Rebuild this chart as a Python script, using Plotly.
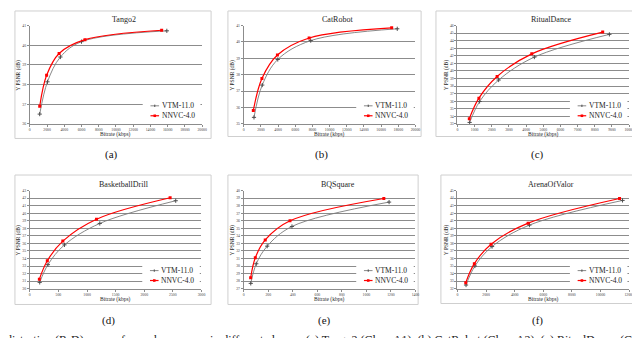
import plotly.graph_objects as go

W, H = 640, 338

titles = ["Tango2", "CatRobot", "RitualDance", "BasketballDrill", "BQSquare", "ArenaOfValor"]
tags = ["(a)", "(b)", "(c)", "(d)", "(e)", "(f)"]
series_names = ["VTM-11.0", "NNVC-4.0"]

# bitrate (kbps) / Y PSNR (dB)
tango_rate_vtm = [1150, 2050, 3550, 6000, 15900]
tango_psnr_vtm = [36.50, 38.14, 39.40, 40.18, 40.73]
tango_rate_nnvc = [1150, 1950, 3400, 6400, 15300]
tango_psnr_nnvc = [36.90, 38.47, 39.58, 40.28, 40.76]

cat_rate_vtm = [1190, 2150, 3960, 7800, 17880]
cat_psnr_vtm = [35.40, 37.37, 38.93, 40.08, 40.80]
cat_rate_nnvc = [1110, 2115, 3920, 7615, 17230]
cat_psnr_nnvc = [35.82, 37.77, 39.20, 40.24, 40.86]

ritual_rate_vtm = [710, 1290, 2400, 4480, 8850]
ritual_psnr_vtm = [33.20, 35.96, 38.80, 41.83, 44.83]
ritual_rate_nnvc = [690, 1250, 2310, 4330, 8460]
ritual_psnr_nnvc = [33.70, 36.40, 39.26, 42.26, 45.13]

bball_rate_vtm = [173, 317, 606, 1223, 2550]
bball_psnr_vtm = [30.83, 33.18, 35.80, 38.64, 41.65]
bball_rate_nnvc = [167, 306, 577, 1166, 2452]
bball_psnr_nnvc = [31.26, 33.70, 36.30, 39.20, 42.04]

bq_rate_vtm = [57, 102, 191, 393, 1185]
bq_psnr_vtm = [27.70, 30.30, 32.63, 35.24, 38.47]
bq_rate_nnvc = [56, 94, 175, 377, 1142]
bq_psnr_nnvc = [28.44, 31.10, 33.46, 35.99, 38.95]

arena_rate_vtm = [600, 1220, 2420, 5030, 11540]
arena_psnr_vtm = [32.48, 35.00, 37.58, 40.42, 43.69]
arena_rate_nnvc = [580, 1180, 2350, 4940, 11330]
arena_psnr_nnvc = [32.80, 35.31, 37.89, 40.68, 43.95]

vtm = [(tango_rate_vtm, tango_psnr_vtm), (cat_rate_vtm, cat_psnr_vtm),
       (ritual_rate_vtm, ritual_psnr_vtm), (bball_rate_vtm, bball_psnr_vtm),
       (bq_rate_vtm, bq_psnr_vtm), (arena_rate_vtm, arena_psnr_vtm)]
nnvc = [(tango_rate_nnvc, tango_psnr_nnvc), (cat_rate_nnvc, cat_psnr_nnvc),
        (ritual_rate_nnvc, ritual_psnr_nnvc), (bball_rate_nnvc, bball_psnr_nnvc),
        (bq_rate_nnvc, bq_psnr_nnvc), (arena_rate_nnvc, arena_psnr_nnvc)]

x_ranges = [[0, 20000], [0, 20000], [0, 10000], [0, 3000], [0, 1400], [0, 12000]]
x_dticks = [2000, 2000, 1000, 500, 200, 2000]
y_ranges = [[36, 41], [35, 41], [33, 46], [30, 43], [27, 40], [32, 45]]

# layout in pixels: plot area (l, r, t, b) and outer frame (l, r, t, b)
plot_px = [(21, 195, 15.7, 115.3), (237, 410.3, 15.7, 115.3), (452.7, 626, 15.7, 115.3),
           (21, 194.3, 182.7, 282), (237, 410.3, 182.7, 282), (452.7, 626, 182.7, 282)]
frame_px = [(6, 204, 1, 130), (221, 416, 1, 128), (431, 636, 1, 128),
            (6, 204, 167, 298), (221, 413, 167, 298), (436, 630, 167, 297)]
tag_px = [(103, 146), (315, 146), (533, 146), (100, 314), (318, 314), (533, 314)]

SERIF = "Liberation Serif"
GRID = "#8c8c8c"
GREY = "#7a7a7a"
RED = "#ff0000"


def px(x):
    return x / W


def py(y):
    return 1 - y / H


fig = go.Figure()
shapes = []
annots = []

for i in range(6):
    k = i + 1
    sfx = "" if k == 1 else str(k)
    l, r, t, b = plot_px[i]
    xa, ya = "x" + sfx, "y" + sfx

    fig.add_trace(go.Scatter(x=vtm[i][0], y=vtm[i][1], name=series_names[0],
                             xaxis=xa, yaxis=ya, mode="lines+markers",
                             line=dict(color=GREY, width=0.9, shape="spline", smoothing=1),
                             marker=dict(symbol="cross-thin", size=3,
                                         line=dict(width=1, color="#4d4d4d")),
                             showlegend=False))
    fig.add_trace(go.Scatter(x=nnvc[i][0], y=nnvc[i][1], name=series_names[1],
                             xaxis=xa, yaxis=ya, mode="lines+markers",
                             line=dict(color=RED, width=1.2, shape="spline", smoothing=1),
                             marker=dict(symbol="square", size=3, color=RED),
                             showlegend=False))

    fig.update_layout({
        "xaxis" + sfx: dict(domain=[px(l), px(r)], range=x_ranges[i], dtick=x_dticks[i], tick0=0,
                            tickformat="d",
                            anchor=ya, showgrid=False, zeroline=False, showline=True,
                            linecolor=GRID, linewidth=1, ticks="outside", ticklen=2,
                            tickcolor=GRID, tickfont=dict(size=3.8, color="#404040", family=SERIF),
                            fixedrange=True),
        "yaxis" + sfx: dict(domain=[py(b), py(t)], range=y_ranges[i], dtick=1, tick0=0,
                            tickformat="d",
                            anchor=xa, showgrid=True, gridcolor=GRID, gridwidth=1,
                            zeroline=False, showline=True, linecolor=GRID, linewidth=1,
                            ticks="outside", ticklen=2, tickcolor=GRID,
                            tickfont=dict(size=3.8, color="#404040", family=SERIF),
                            fixedrange=True),
    })

    # chart frame
    fl, fr, ft, fb = frame_px[i]
    shapes.append(dict(type="rect", xref="paper", yref="paper", x0=px(fl), x1=px(fr),
                       y0=py(fb), y1=py(ft), line=dict(color="#cfcfcf", width=1), layer="below"))

    # titles
    annots.append(dict(x=px((l + r) / 2 + 8), y=py(t - 6), xref="paper", yref="paper",
                       text=titles[i], showarrow=False, xanchor="center", yanchor="middle",
                       font=dict(family=SERIF, size=8, color="#262626")))
    annots.append(dict(x=px((l + r) / 2), y=py(b + 10.5), xref="paper", yref="paper",
                       text="Bitrate (kbps)", showarrow=False, xanchor="center", yanchor="middle",
                       font=dict(family=SERIF, size=5.5, color="#262626")))
    annots.append(dict(x=px(l - 11), y=py((t + b) / 2), xref="paper", yref="paper",
                       text="Y PSNR (dB)", showarrow=False, textangle=-90,
                       xanchor="center", yanchor="middle",
                       font=dict(family=SERIF, size=5.5, color="#262626")))
    annots.append(dict(x=px(tag_px[i][0]), y=py(tag_px[i][1]), xref="paper", yref="paper",
                       text=tags[i], showarrow=False, xanchor="center", yanchor="middle",
                       font=dict(family=SERIF, size=11, color="#111111")))

    # in-plot legend
    xd, yd = xa + " domain", ya + " domain"
    wpx, hpx = r - l, b - t
    shapes.append(dict(type="rect", xref=xd, yref=yd, x0=0.655, x1=0.99, y0=0.03, y1=0.245,
                       fillcolor="white", line=dict(width=0), layer="above"))
    for yy, col, lw in [(0.184, GREY, 0.9), (0.083, RED, 1.2)]:
        shapes.append(dict(type="line", xref=xd, yref=yd, x0=0.70, x1=0.75, y0=yy, y1=yy,
                           line=dict(color=col, width=lw), layer="above"))
    cx = 0.725
    shapes.append(dict(type="line", xref=xd, yref=yd, x0=cx, x1=cx,
                       y0=0.184 - 1.2 / hpx, y1=0.184 + 1.2 / hpx,
                       line=dict(color="#4d4d4d", width=1), layer="above"))
    shapes.append(dict(type="rect", xref=xd, yref=yd, x0=cx - 1.3 / wpx, x1=cx + 1.3 / wpx,
                       y0=0.083 - 1.3 / hpx, y1=0.083 + 1.3 / hpx,
                       fillcolor=RED, line=dict(width=0), layer="above"))
    for yy, name in [(0.184, series_names[0]), (0.083, series_names[1])]:
        annots.append(dict(x=0.755, y=yy, xref=xd, yref=yd, text=name, showarrow=False,
                           xanchor="left", yanchor="middle",
                           font=dict(family=SERIF, size=7.5, color="#1a1a1a")))

annots.append(dict(x=px(-5), y=py(325), xref="paper", yref="paper", showarrow=False,
                   xanchor="left", yanchor="top",
                   text="distortion (R-D) curves for each sequence in different classes. "
                        "(a) Tango2 (Class A1), (b) CatRobot (Class A2), (c) RitualDance (Class A1),",
                   font=dict(family=SERIF, size=12, color="#1a1a1a")))

fig.update_layout(width=W, height=H, margin=dict(l=0, r=0, t=0, b=0, pad=0),
                  paper_bgcolor="white", plot_bgcolor="white",
                  font=dict(family=SERIF),
                  shapes=shapes, annotations=annots, showlegend=False)

fig.write_html("out.html")
